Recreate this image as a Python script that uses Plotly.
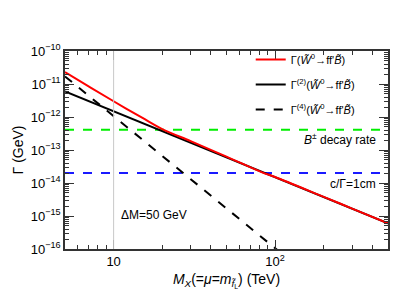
import math
import plotly.graph_objects as go

# Data
mass_total = [5, 7, 10, 15, 20, 30, 50, 83, 100, 200, 300, 500]
gamma_total = [2.3e-11, 8.5e-12, 3.0e-12, 9.5e-13, 4.3e-13, 1.85e-13, 6.3e-14, 2.1e-14, 1.52e-14, 3.8e-15, 1.68e-15, 6.0e-16]

mass_2 = [5, 7, 10, 20, 30, 50, 100, 200, 300, 500]
gamma_2 = [6.0e-12, 3.06e-12, 1.5e-12, 3.75e-13, 1.67e-13, 6.0e-14, 1.5e-14, 3.75e-15, 1.67e-15, 6.0e-16]

mass_4 = [5, 7, 10, 15, 20, 30, 50, 70, 100, 103]
gamma_4 = [1.7e-11, 4.43e-12, 1.06e-12, 2.1e-13, 6.6e-14, 1.31e-14, 1.7e-15, 4.4e-16, 1.06e-16, 9.4e-17]

b_decay_rate = 4.1e-13
ctau_1cm = 2.0e-14
x_range = [5, 500]
y_range = [1e-16, 1e-10]
delta_m_label_pos = (10.8, 1.05e-15)

x_major = [10, 100]
x_major_text = ["10", "10<sup>2</sup>"]
y_major = [1e-16, 1e-15, 1e-14, 1e-13, 1e-12, 1e-11, 1e-10]
y_major_text = ["10<sup>−16</sup>", "10<sup>−15</sup>", "10<sup>−14</sup>", "10<sup>−13</sup>",
                "10<sup>−12</sup>", "10<sup>−11</sup>", "10<sup>−10</sup>"]

x_minor = [6, 7, 8, 9, 20, 30, 40, 50, 60, 70, 80, 90, 200, 300, 400, 500]
y_minor = [m * 10.0 ** e for e in range(-16, -10) for m in range(2, 10)]

W = "<i>W\u0303</i><sup>0</sup>→ff'<i>B\u0303</i>"

fig = go.Figure()
fig.add_trace(go.Scatter(x=x_range, y=[b_decay_rate, b_decay_rate], mode="lines",
                         line=dict(color="#00ee00", width=2, dash="dash"), showlegend=False))
fig.add_trace(go.Scatter(x=x_range, y=[ctau_1cm, ctau_1cm], mode="lines",
                         line=dict(color="#1a1aff", width=2, dash="dash"), showlegend=False))
fig.add_trace(go.Scatter(x=mass_4, y=gamma_4, mode="lines", line=dict(color="black", width=2, dash="dash"),
                         name="Γ<sup>(4)</sup>(" + W + ")", legendrank=3, legendgroup="g4"))
fig.add_trace(go.Scatter(x=mass_2, y=gamma_2, mode="lines", line=dict(color="black", width=2),
                         name="Γ<sup>(2)</sup>(" + W + ")", legendrank=2, legendgroup="g2"))
fig.add_trace(go.Scatter(x=mass_total, y=gamma_total, mode="lines", line=dict(color="#ff0000", width=2, shape="spline"),
                         name="Γ(" + W + ")", legendrank=1, legendgroup="g1"))

fig.add_vline(x=10, line=dict(color="#c8c8c8", width=1))

font = "Liberation Sans, Arial, sans-serif"
fig.add_annotation(x=0.97, xref="paper", y=math.log10(b_decay_rate), yref="y", text="<i>B</i><sup>±</sup> decay rate",
                   showarrow=False, xanchor="right", yanchor="top", yshift=1, font=dict(size=12, color="black"))
fig.add_annotation(x=0.97, xref="paper", y=math.log10(ctau_1cm), yref="y", text="c/Γ=1cm",
                   showarrow=False, xanchor="right", yanchor="top", yshift=-2, font=dict(size=12, color="black"))
fig.add_annotation(x=math.log10(delta_m_label_pos[0]), y=math.log10(delta_m_label_pos[1]), text="ΔM=50 GeV",
                   showarrow=False, xanchor="left", yanchor="middle", font=dict(size=12, color="black"))

axis_common = dict(type="log", showline=True, linecolor="#333333", linewidth=1.5, mirror="ticks",
                   ticks="inside", ticklen=9, tickwidth=1.2, tickcolor="#333333", showgrid=False,
                   zeroline=False, tickfont=dict(size=13, color="black"), automargin=False)
fig.update_xaxes(**axis_common, range=[0.69897, 2.69897], tickmode="array", tickvals=x_major, ticktext=x_major_text,
                 minor=dict(tickmode="array", tickvals=x_minor, ticks="inside", ticklen=4, tickcolor="#333333"),
                 title=dict(text="<i>M<sub>X</sub></i>(=<i>μ</i>=<i>m</i><sub><i>f\u0303</i><sub>L</sub></sub>) (TeV)",
                            font=dict(size=14, color="black"), standoff=6))
fig.update_yaxes(**axis_common, range=[-16, -10], tickmode="array", tickvals=y_major, ticktext=y_major_text,
                 minor=dict(tickmode="array", tickvals=y_minor, ticks="inside", ticklen=4, tickcolor="#333333"),
                 title=dict(text="Γ (GeV)", font=dict(size=14, color="black"), standoff=4))

fig.update_layout(width=415, height=297, margin=dict(l=57, r=35, t=43, b=56),
                  paper_bgcolor="white", plot_bgcolor="white",
                  font=dict(family=font, color="black"),
                  legend=dict(x=0.575, y=1.03, xanchor="left", yanchor="top", bgcolor="rgba(0,0,0,0)",
                              font=dict(size=11), tracegroupgap=6, itemwidth=30))
fig.write_html("out.html")
